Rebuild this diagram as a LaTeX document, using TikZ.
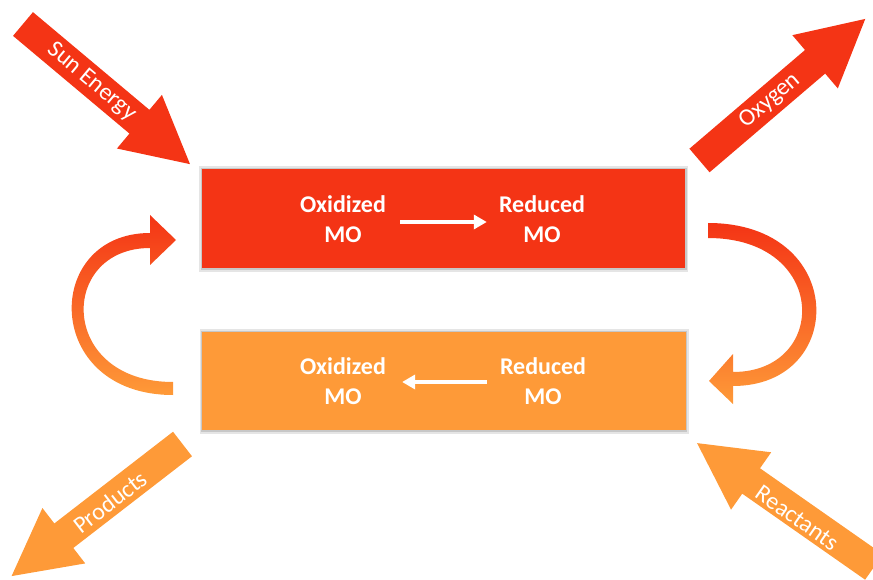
\documentclass[tikz,border=0pt]{standalone}
\usepackage{fontspec}
\setmainfont{Carlito}
\usetikzlibrary{arrows.meta}
\definecolor{cred}{RGB}{244,52,21}
\definecolor{corange}{RGB}{254,154,56}
\newcommand\blockarr[4]{% tail, angle, colour, length
  \begin{scope}[shift={#1}, rotate=#2]
    \fill[#3] (0,-15.5) -- (#4-66,-15.5) -- (#4-66,-35) -- (#4,0) -- (#4-66,35) -- (#4-66,15.5) -- (0,15.5) -- cycle;
  \end{scope}}
\begin{document}
\begin{tikzpicture}[x=1pt,y=-1pt,
  boxnode/.style={rectangle, minimum width=483pt, minimum height=99pt, inner sep=0pt},
  boxtext/.style={text=white, font=\fontsize{24}{30}\selectfont\bfseries, align=center, inner sep=0pt},
  lbl/.style={text=white, font=\fontsize{24}{26}\selectfont, inner sep=0pt},
  wharrow/.style={draw=white, line width=3.5pt, -{Triangle[length=13pt,width=14pt]}},
  shadowA/.style={fill=black!10},
  shadowB/.style={fill=black!22}]
\useasboundingbox (0,0) rectangle (873,580);
\clip (0,0) rectangle (873,580);

% block arrows
\blockarr{(23,24)}{-40}{cred}{218}
\blockarr{(699.5,160.5)}{40.5}{cred}{218}
\blockarr{(182.5,444)}{217.7}{corange}{216}
\blockarr{(874,567)}{145}{corange}{216}

\node[lbl, rotate=-40] (sun) at (92,82) {Sun Energy};
\node[lbl, rotate=40.5] (oxy) at (770,101) {Oxygen};
\node[lbl, rotate=37.7] (prod) at (110,502) {Products};
\node[lbl, rotate=-35] (react) at (797,518) {Reactants};

% boxes
\node[boxnode] (top) at (443.5,218.5) {};
\node[boxnode, minimum height=98pt] (bot) at (444,381) {};
\foreach \b in {top,bot}{
  \fill[shadowA] ([xshift=-2.5pt,yshift=2.5pt]\b.north west) rectangle ([xshift=3pt,yshift=-3.5pt]\b.south east);
  \fill[shadowB] ([xshift=-1pt,yshift=1pt]\b.north west) rectangle ([xshift=1.5pt,yshift=-2pt]\b.south east);
}
\fill[cred] (top.north west) rectangle (top.south east);
\fill[corange] (bot.north west) rectangle (bot.south east);

% box texts
\node[boxtext] (ox1) at (343,219) {Oxidized\\MO};
\node[boxtext] (re1) at (542,219) {Reduced\\MO};
\node[boxtext] (ox2) at (343,381) {Oxidized\\MO};
\node[boxtext] (re2) at (543,381) {Reduced\\MO};
\draw[wharrow] ([yshift=-3pt,xshift=14pt]ox1.east) -- ([yshift=-3pt,xshift=-12pt]re1.west);
\draw[wharrow] ([yshift=-1pt,xshift=-13pt]re2.west) -- ([yshift=-1pt,xshift=16pt]ox2.east);

% curved arrows
\shade[top color=cred, bottom color=corange]
  (173,395) .. controls (42,395) and (42,233) .. (150,233)
  -- (150,215) -- (176,240) -- (150,265) -- (150,248)
  .. controls (58,248) and (58,382) .. (173,382) -- cycle;
\shade[top color=cred, bottom color=corange]
  (708,223) .. controls (848,223) and (848,386) .. (733,386)
  -- (733,404) -- (709,381) -- (733,354) -- (733,372)
  .. controls (829,372) and (829,238) .. (708,238) -- cycle;
\end{tikzpicture}
\end{document}
